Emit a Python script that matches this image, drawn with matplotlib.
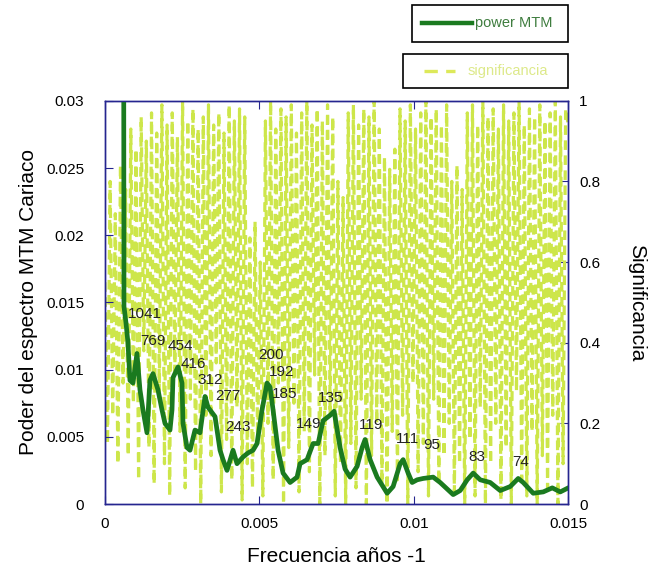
import numpy as np
import matplotlib.pyplot as plt
from matplotlib.patches import Rectangle
from matplotlib.lines import Line2D

plt.rcParams['font.family'] = ['Liberation Sans', 'DejaVu Sans']

# power MTM spectrum (frequency in years^-1)
freq_power = [0.000600, 0.000616, 0.000680, 0.000745, 0.000810, 0.000907, 0.001037, 0.001134,
              0.001231, 0.001361, 0.001458, 0.001555, 0.001717, 0.001847, 0.001944, 0.002106,
              0.002171, 0.002203, 0.002365, 0.002495, 0.002527, 0.002657, 0.002754, 0.002916,
              0.003078, 0.003240, 0.003337, 0.003564, 0.003726, 0.003823, 0.003952, 0.004147,
              0.004276, 0.004471, 0.004633, 0.004795, 0.004924, 0.005086, 0.005248, 0.005346,
              0.005443, 0.005605, 0.005767, 0.005994, 0.006220, 0.006317, 0.006544, 0.006739,
              0.006901, 0.007063, 0.007289, 0.007419, 0.007613, 0.007775, 0.007937, 0.008164,
              0.008326, 0.008423, 0.008585, 0.008812, 0.009136, 0.009330, 0.009557, 0.009654,
              0.009816, 0.009946, 0.010108, 0.010302, 0.010626, 0.010853, 0.011274, 0.011501,
              0.011728, 0.011922, 0.012149, 0.012473, 0.012797, 0.013121, 0.013380, 0.013542,
              0.013866, 0.014190, 0.014482, 0.014741, 0.015000]
power = [0.0500, 0.0147, 0.0135, 0.0120, 0.0092, 0.0090, 0.0112, 0.0085,
         0.0070, 0.0053, 0.0092, 0.0097, 0.0085, 0.0070, 0.0060, 0.0055,
         0.0070, 0.0094, 0.0102, 0.0090, 0.0060, 0.0042, 0.0040, 0.0055,
         0.0053, 0.0080, 0.0072, 0.0065, 0.0040, 0.0033, 0.0025, 0.0040,
         0.0030, 0.0035, 0.0038, 0.0040, 0.0045, 0.0070, 0.0090, 0.0087,
         0.0070, 0.0040, 0.0023, 0.0016, 0.0020, 0.0030, 0.0033, 0.0045,
         0.0045, 0.0062, 0.0066, 0.0069, 0.0042, 0.0026, 0.0020, 0.0028,
         0.0042, 0.0048, 0.0033, 0.0020, 0.0008, 0.0013, 0.0030, 0.0033,
         0.0023, 0.0016, 0.0018, 0.0019, 0.0020, 0.0016, 0.0007, 0.0010,
         0.0018, 0.0023, 0.0018, 0.0016, 0.0010, 0.0013, 0.0019, 0.0016,
         0.0008, 0.0009, 0.0012, 0.0009, 0.0012]

# significance (right axis), sampled evenly over the frequency range
significance = [0.55, 0.15, 0.80, 0.22, 0.72, 0.10, 0.84, 0.30, 0.78,
                0.12, 0.93, 0.25, 0.88, 0.06, 0.96, 0.38, 0.90, 0.14, 0.97,
                0.05, 0.92, 0.28, 0.99, 0.10, 0.94, 0.02, 0.97, 0.33, 0.91,
                0.18, 1.00, 0.04, 0.95, 0.26, 0.98, 0.08, 0.93, 0.00, 0.96,
                0.22, 0.99, 0.12, 0.94, 0.35, 0.97, 0.03, 0.92, 0.16, 0.99,
                0.06, 0.95, 0.24, 0.98, 0.01, 0.96,
                0.10, 0.66, 0.04, 0.70, 0.15, 0.60, 0.02,
                0.95, 0.20, 1.00, 0.06, 0.93, 0.30, 0.98, 0.00, 0.96, 0.14,
                0.99, 0.25, 0.92, 0.03, 0.97, 0.18, 1.00, 0.08, 0.94, 0.32,
                0.98, 0.00, 0.95, 0.12, 0.99, 0.22, 0.96,
                0.02, 0.80, 0.10, 0.76, 0.00,
                0.97, 0.15, 0.99, 0.04, 0.94, 0.26, 0.98, 0.00, 0.96, 0.12, 1.00, 0.20, 0.93, 0.05,
                0.86, 0.00, 0.83, 0.18, 0.88, 0.06,
                0.98, 0.22, 0.95, 0.00, 0.99, 0.30, 0.93, 0.08, 0.97, 0.15,
                1.00, 0.02, 0.96, 0.26, 0.98, 0.05, 0.94, 0.12, 0.99, 0.20,
                0.80, 0.03, 0.84, 0.10, 0.78, 0.00,
                0.97, 0.16, 0.99, 0.02, 0.94, 0.24, 1.00, 0.00, 0.96, 0.10,
                0.98, 0.20, 0.93, 0.01, 0.99, 0.14, 0.95, 0.00, 0.97, 0.28,
                1.00, 0.06, 0.94, 0.02, 0.98, 0.18, 0.96, 0.00, 0.99, 0.12,
                0.95, 0.04, 0.97, 0.22, 1.00, 0.00, 0.96, 0.10, 0.98, 0.94]
freq_sig = np.linspace(0, 0.015, len(significance))

# period labels (years) and where they sit
periods = ["1041", "769", "454", "416", "312", "277", "243", "200", "192", "185",
           "149", "135", "119", "111", "95", "83", "74"]
label_pos = [(0.00130, 0.01414), (0.00156, 0.01213), (0.00243, 0.01176), (0.00285, 0.01042),
             (0.00340, 0.00923), (0.00398, 0.00804), (0.00431, 0.00573), (0.00538, 0.01109),
             (0.00573, 0.00983), (0.00583, 0.00819), (0.00658, 0.00596), (0.00732, 0.00789),
             (0.00862, 0.00588), (0.00978, 0.00484), (0.01059, 0.00439), (0.01205, 0.00350),
             (0.01345, 0.00313)]

dark_green = "#1a7a1f"
lime = "#cde64a"
navy = "#25258f"

fig = plt.figure(figsize=(6.6, 5.76), dpi=100)
ax = fig.add_axes([0.159, 0.125, 0.702, 0.700])
ax2 = ax.twinx()

ax2.plot(freq_sig, significance, color=lime, lw=2.3, dashes=(3, 1.7))
ax.plot(freq_power, power, color=dark_green, lw=3.4)

ax.set_zorder(ax2.get_zorder() + 1)
ax.patch.set_visible(False)

for txt, (x, y) in zip(periods, label_pos):
    ax.text(x, y, txt, fontsize=11, ha="center", va="center", color="#222222")

ax.set_xlim(0, 0.015)
ax.set_ylim(0, 0.03)
ax2.set_ylim(0, 1)

ax.set_xticks([0, 0.005, 0.01, 0.015])
ax.set_xticklabels(["0", "0.005", "0.01", "0.015"])
ax.set_yticks([0, 0.005, 0.01, 0.015, 0.02, 0.025, 0.03])
ax.set_yticklabels(["0", "0.005", "0.01", "0.015", "0.02", "0.025", "0.03"])
ax2.set_yticks([0, 0.2, 0.4, 0.6, 0.8, 1])
ax2.set_yticklabels(["0", "0.2", "0.4", "0.6", "0.8", "1"])

ax.tick_params(axis="x", direction="in", length=6, color=navy, labelsize=11, pad=9, top=True)
ax.tick_params(axis="y", direction="in", length=6, color=navy, labelsize=11, pad=15)
ax2.tick_params(axis="y", direction="in", length=6, color=navy, labelsize=11, pad=8)

for a in (ax, ax2):
    for s in a.spines.values():
        s.set_color(navy)
        s.set_linewidth(1.0)

ax.set_xlabel("Frecuencia años -1", fontsize=15, labelpad=12)
ax.set_ylabel("Poder del espectro MTM Cariaco", fontsize=15, labelpad=6)
ax2.set_ylabel("Significancia", fontsize=15, rotation=270, labelpad=33)

# legend boxes
fig.add_artist(Rectangle((0.624, 0.927), 0.237, 0.064, transform=fig.transFigure,
                         fill=False, edgecolor="black", lw=1.2))
fig.add_artist(Line2D([0.639, 0.715], [0.960, 0.960], transform=fig.transFigure,
                      color=dark_green, lw=3.2))
fig.text(0.719, 0.960, "power MTM", fontsize=10.5, color="#3f7d3f", va="center", ha="left")

fig.add_artist(Rectangle((0.611, 0.847), 0.250, 0.059, transform=fig.transFigure,
                         fill=False, edgecolor="black", lw=1.2))
fig.add_artist(Line2D([0.643, 0.690], [0.877, 0.877], transform=fig.transFigure,
                      color="#dde95a", lw=2.4, dashes=(4, 2.5)))
fig.text(0.708, 0.877, "significancia", fontsize=10.5, color="#dde98a", va="center", ha="left")

plt.savefig("out.png", dpi=100)
